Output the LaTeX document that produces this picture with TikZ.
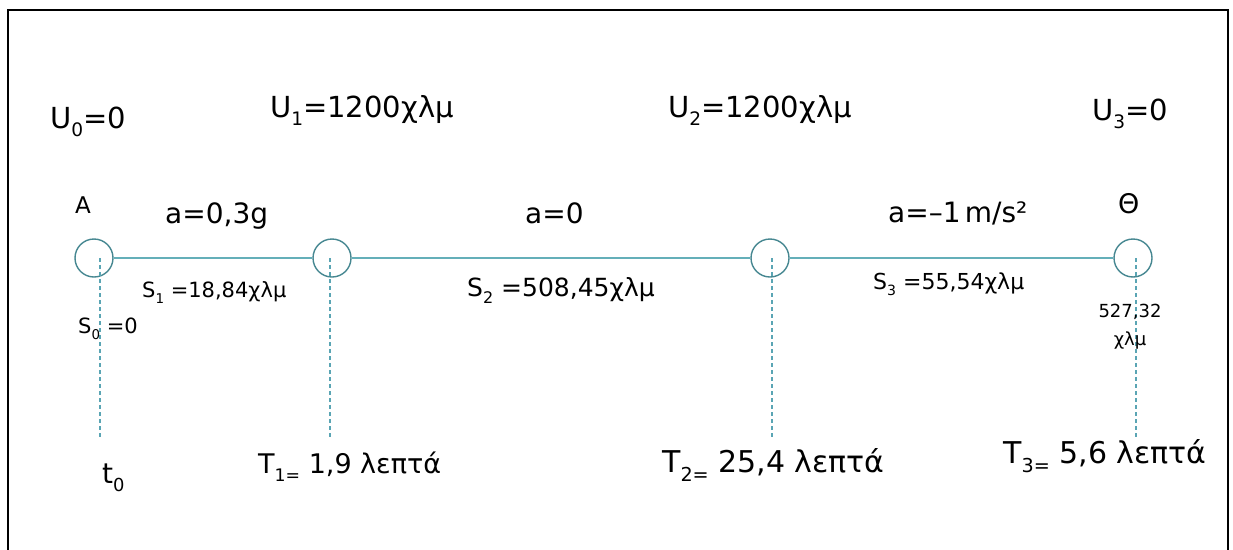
\documentclass[tikz,border=0pt]{standalone}
\usepackage{fontspec}
\setmainfont{DejaVu Sans}
\definecolor{ring}{RGB}{70,135,145}
\definecolor{wire}{RGB}{100,175,185}
\definecolor{guide}{RGB}{90,165,180}
\newcommand\lowr[1]{\raisebox{-0.3em}{\scalebox{0.64}{#1}}}
\newcommand\fs[1]{\fontsize{#1}{#1}\selectfont}
\begin{document}
\begin{tikzpicture}[x=1pt,y=-1pt,
  stop/.style={circle,draw=ring,line width=1.4pt,minimum size=38pt,inner sep=0pt},
  seg/.style={draw=wire,line width=1.8pt},
  guideline/.style={draw=guide,line width=1.1pt,dash pattern=on 4pt off 3pt},
  lbl/.style={inner sep=0pt,anchor=base west}]
\useasboundingbox (0,0) rectangle (1233,549);
\draw[line width=2pt] (8,560) -- (8,10) -- (1228,10) -- (1228,560);
% stops
\node[stop] (A) at (94,258) {};
\node[stop] (B) at (332,258) {};
\node[stop] (C) at (770,258) {};
\node[stop] (D) at (1133,258) {};
\draw[seg] (A) -- (B);
\draw[seg] (B) -- (C);
\draw[seg] (C) -- (D);
% guides
\coordinate (g0t) at (100,258); \coordinate (g0b) at (100,438);
\coordinate (g1t) at (330,258); \coordinate (g1b) at (330,438);
\coordinate (g2t) at (772,258); \coordinate (g2b) at (772,438);
\coordinate (g3t) at (1136,258); \coordinate (g3b) at (1136,438);
\draw[guideline] (g0t) -- (g0b);
\draw[guideline] (g1t) -- (g1b);
\draw[guideline] (g2t) -- (g2b);
\draw[guideline] (g3t) -- (g3b);
% labels
\node[lbl] (u0) at (50,128) {\fs{29}U\lowr{0}=0};
\node[lbl] (u1) at (270,117) {\fs{29}U\lowr{1}=1200χλμ};
\node[lbl] (u2) at (668,117) {\fs{29}U\lowr{2}=1200χλμ};
\node[lbl] (u3) at (1092,120) {\fs{29}U\lowr{3}=0};
\node[lbl] (la) at (75,213) {\fs{23}A};
\node[lbl] (lth) at (1118,213) {\fs{27}Θ};
\node[lbl] (a1) at (165,223) {\fs{28}a=0,3g};
\node[lbl] (a2) at (525,223) {\fs{28}a=0};
\node[lbl] (a3) at (888,222) {\fs{28}a=–1\hspace{0.15em}m/s²};
\node[lbl] (s1) at (142,297) {\fs{21}S\lowr{1} =18,84χλμ};
\node[lbl] (s0) at (78,333) {\fs{21}S\lowr{0} =0};
\node[lbl] (s2) at (467,296) {\fs{25}S\lowr{2} =508,45χλμ};
\node[lbl] (s3) at (873,289) {\fs{22}S\lowr{3} =55,54χλμ};
\node[inner sep=0pt,anchor=base] (tot) at (1130,317) {\fs{18}527,32};
\node[inner sep=0pt,anchor=base] (totu) at (1130,345) {\fs{18}χλμ};
\node[lbl] (t0) at (102,483) {\fs{28}t\lowr{0}};
\node[lbl] (t1) at (258,473) {\fs{27}T\lowr{1=} 1,9 λεπτά};
\node[lbl] (t2) at (662,472) {\fs{30}T\lowr{2=} 25,4 λεπτά};
\node[lbl] (t3) at (1003,463) {\fs{30}T\lowr{3=} 5,6 λεπτά};
\end{tikzpicture}
\end{document}
